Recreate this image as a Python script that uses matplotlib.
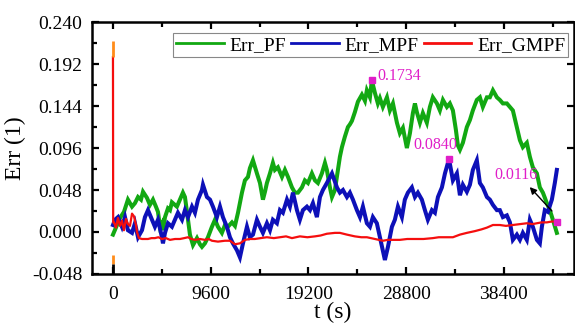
import matplotlib
matplotlib.use("Agg")
import matplotlib.pyplot as plt
from matplotlib.ticker import MultipleLocator, FormatStrFormatter

plt.rcParams['font.family'] = ['Liberation Serif', 'DejaVu Serif']
plt.rcParams['axes.unicode_minus'] = False

# Err_PF (green)
pf_t = [0, 290, 690, 1080, 1470, 1870, 2160, 2460, 2750, 2950,
        3340, 3630, 3930, 4220, 4420, 4620, 4810, 4910, 5110, 5400,
        5600, 5790, 6090, 6280, 6580, 6870, 7070, 7270, 7560, 7860,
        8250, 8540, 8740, 9030, 9330, 9720, 10020, 10310, 10700, 11000,
        11290, 11690, 11980, 12280, 12670, 12960, 13260, 13450, 13750, 14140,
        14440, 14730, 14930, 15120, 15420, 15710, 15910, 16200, 16600, 16890,
        17190, 17580, 17870, 18170, 18560, 18850, 19150, 19540, 19840, 20130,
        20520, 20820, 21010, 21310, 21510, 21800, 22100, 22290, 22490, 22780,
        23080, 23270, 23470, 23760, 24060, 24450, 24750, 24940, 25240, 25430,
        25730, 26020, 26220, 26510, 26910, 27200, 27500, 27890, 28180, 28480,
        28870, 29170, 29460, 29660, 29850, 30150, 30440, 30830, 31130, 31420,
        31820, 32110, 32410, 32800, 33090, 33390, 33680, 33880, 34080, 34370,
        34760, 35060, 35350, 35740, 36040, 36330, 36730, 37020, 37320, 37710,
        38000, 38300, 38690, 38990, 39280, 39670, 39970, 40260, 40650, 40950,
        41240, 41640, 41930, 42230, 42620, 42910, 43210, 43600]
pf_err = [-0.003, 0.005, 0.016, 0.023, 0.037, 0.029, 0.033, 0.040, 0.037, 0.046,
          0.039, 0.031, 0.037, 0.029, 0.023, 0.006, 0.010, 0.002, 0.017, 0.027,
          0.025, 0.034, 0.031, 0.029, 0.037, 0.045, 0.040, 0.023, -0.003, -0.015,
          -0.007, -0.014, -0.017, -0.013, -0.006, 0.006, 0.014, 0.006, -0.001, 0.008,
          0.006, 0.011, 0.007, 0.022, 0.045, 0.059, 0.063, 0.073, 0.082, 0.067,
          0.056, 0.037, 0.046, 0.056, 0.067, 0.079, 0.071, 0.074, 0.063, 0.071,
          0.063, 0.051, 0.045, 0.045, 0.051, 0.059, 0.056, 0.067, 0.059, 0.056,
          0.067, 0.079, 0.071, 0.051, 0.040, 0.048, 0.071, 0.086, 0.097, 0.109,
          0.120, 0.123, 0.127, 0.137, 0.149, 0.157, 0.150, 0.162, 0.154, 0.1734,
          0.159, 0.147, 0.153, 0.143, 0.154, 0.139, 0.147, 0.125, 0.113, 0.119,
          0.096, 0.113, 0.136, 0.147, 0.137, 0.125, 0.136, 0.125, 0.143, 0.154,
          0.147, 0.139, 0.151, 0.143, 0.147, 0.139, 0.117, 0.099, 0.094, 0.102,
          0.120, 0.128, 0.139, 0.151, 0.154, 0.143, 0.154, 0.154, 0.162, 0.154,
          0.151, 0.147, 0.147, 0.143, 0.139, 0.120, 0.105, 0.097, 0.102, 0.086,
          0.074, 0.067, 0.051, 0.045, 0.033, 0.025, 0.014, -0.001]

# Err_MPF (blue)
mpf_t = [0, 200, 490, 880, 1180, 1470, 1870, 2160, 2460, 2850,
         3140, 3440, 3830, 4120, 4420, 4810, 4910, 5110, 5400, 5790,
         6090, 6380, 6780, 7070, 7370, 7760, 8050, 8350, 8740, 8840,
         9230, 9530, 9820, 10210, 10510, 10800, 11190, 11490, 11780, 12180,
         12470, 12770, 13160, 13450, 13750, 14140, 14440, 14730, 15120, 15420,
         15710, 16100, 16400, 16690, 17090, 17380, 17680, 18070, 18360, 18660,
         19050, 19350, 19640, 20030, 20330, 20620, 21010, 21510, 21600, 22000,
         22290, 22590, 22980, 23270, 23570, 23960, 24260, 24550, 24940, 25240,
         25530, 25920, 26220, 26510, 26710, 27010, 27400, 27690, 27990, 28380,
         28670, 28970, 29360, 29660, 29950, 30340, 30640, 30930, 31330, 31620,
         31920, 32310, 32610, 32900, 33000, 33390, 33780, 34080, 34370, 34760,
         35060, 35350, 35740, 36040, 36330, 36730, 37020, 37320, 37710, 38000,
         38300, 38690, 38990, 39280, 39670, 39970, 40260, 40650, 40950, 41240,
         41640, 41930, 42130, 42420, 42720, 43110, 43400, 43600]
mpf_err = [0.008, 0.014, 0.017, 0.006, 0.017, 0.002, -0.001, 0.010, -0.006, 0.002,
           0.017, 0.025, 0.014, 0.006, 0.014, -0.006, -0.013, -0.001, 0.010, 0.006,
           0.014, 0.022, 0.014, 0.025, 0.017, 0.029, 0.022, 0.037, 0.048, 0.054,
           0.040, 0.037, 0.029, 0.017, 0.029, 0.017, 0.006, -0.006, -0.013, -0.021,
           -0.029, -0.013, 0.006, -0.006, -0.003, 0.014, 0.006, -0.001, 0.010, 0.002,
           0.014, 0.010, 0.025, 0.022, 0.037, 0.029, 0.045, 0.025, 0.014, 0.025,
           0.029, 0.025, 0.033, 0.017, 0.040, 0.048, 0.056, 0.067, 0.064, 0.051,
           0.045, 0.048, 0.040, 0.045, 0.037, 0.025, 0.017, 0.029, 0.010, 0.006,
           0.017, 0.010, -0.006, -0.021, -0.032, -0.017, 0.006, 0.014, 0.029, 0.017,
           0.037, 0.045, 0.051, 0.040, 0.045, 0.037, 0.025, 0.014, 0.025, 0.022,
           0.040, 0.051, 0.067, 0.079, 0.0840, 0.059, 0.067, 0.042, 0.054, 0.046,
           0.054, 0.071, 0.082, 0.056, 0.051, 0.040, 0.037, 0.031, 0.025, 0.025,
           0.017, 0.019, 0.011, -0.009, -0.003, -0.009, -0.001, -0.009, 0.014, 0.006,
           -0.009, -0.013, 0.006, 0.025, 0.023, 0.037, 0.056, 0.071]

# Err_GMPF (red)
gmpf_t = [0, 20, 100, 290, 490, 690, 880, 1080, 1280, 1470,
          1670, 1870, 2060, 2260, 2360, 2550, 2850, 3440, 3780, 4120,
          4460, 4810, 5200, 5600, 6100, 6580, 7000, 7370, 7700, 8050,
          8540, 9030, 9400, 9720, 10310, 11000, 11490, 11980, 12470, 12960,
          13450, 13940, 14500, 15120, 15800, 16400, 17000, 17580, 18360, 19100,
          19840, 20400, 21010, 21800, 22290, 22980, 23760, 24400, 24940, 25730,
          26510, 27000, 27400, 28180, 28900, 29660, 30500, 31420, 32000, 32610,
          33390, 34080, 34760, 35550, 36200, 36730, 37320, 38000, 38600, 39280,
          39970, 40650, 41200, 41640, 42100, 42620, 43100, 43600]
gmpf_err = [0.200, 0.011, 0.011, 0.005, 0.016, 0.007, 0.013, 0.002, 0.015, 0.009,
            0.007, 0.021, 0.018, 0.008, 0.000, -0.007, -0.008, -0.008, -0.007, -0.007,
            -0.006, -0.008, -0.007, -0.009, -0.008, -0.008, -0.007, -0.006, -0.008, -0.009,
            -0.008, -0.009, -0.008, -0.010, -0.011, -0.010, -0.010, -0.014, -0.013, -0.009,
            -0.008, -0.008, -0.007, -0.006, -0.007, -0.006, -0.005, -0.007, -0.005, -0.006,
            -0.005, -0.004, -0.002, -0.001, -0.001, -0.003, -0.005, -0.006, -0.006, -0.008,
            -0.010, -0.009, -0.009, -0.009, -0.008, -0.008, -0.008, -0.007, -0.006, -0.006,
            -0.006, -0.003, -0.001, 0.001, 0.003, 0.005, 0.008, 0.008, 0.007, 0.008,
            0.009, 0.010, 0.009, 0.010, 0.011, 0.011, 0.012, 0.0116]

# short marks drawn at t = 0
init_orange = [(0.200, 0.218), (-0.037, -0.026)]
init_black = (-0.048, -0.037)

# labelled points
mark_t = [25430, 33000, 43600]
mark_err = [0.1734, 0.0840, 0.0116]

x_ticks = [0, 9600, 19200, 28800, 38400]

fig = plt.figure(figsize=(5.75, 3.25), dpi=100)
ax = fig.add_axes([0.160, 0.157, 0.838, 0.775])

ax.plot(pf_t, pf_err, color='#12a812', lw=2.9, label='Err_PF', solid_joinstyle='miter')
ax.plot(mpf_t, mpf_err, color='#0d10b8', lw=2.9, label='Err_MPF', solid_joinstyle='miter')
ax.plot(gmpf_t, gmpf_err, color='#f50e0e', lw=1.6, label='Err_GMPF')

for lo, hi in init_orange:
    ax.vlines(0, lo, hi, color='#ff8c1a', lw=2)
ax.vlines(0, init_black[0], init_black[1], color='black', lw=2)

ax.plot(mark_t, mark_err, 's', color='#e01ec8', ms=5, zorder=5)
ax.text(26000, 0.1785, '0.1734', color='#e01ec8', fontsize=11.5, va='center', ha='left')
ax.text(31700, 0.0990, '0.0840', color='#e01ec8', fontsize=11.5, va='center', ha='center')
ax.text(39600, 0.0650, '0.0116', color='#e01ec8', fontsize=11.5, va='center', ha='center')
ax.annotate('', xy=(40750, 0.0537), xytext=(43300, 0.0217),
            arrowprops=dict(arrowstyle='-|>', color='black', lw=1, mutation_scale=10))

ax.set_xlim(-2060, 45270)
ax.set_ylim(-0.048, 0.240)
ax.set_xticks(x_ticks)
ax.xaxis.set_minor_locator(MultipleLocator(4800))
ax.yaxis.set_major_locator(MultipleLocator(0.048))
ax.yaxis.set_minor_locator(MultipleLocator(0.024))
ax.yaxis.set_major_formatter(FormatStrFormatter('%.3f'))

ax.tick_params(which='both', direction='in', top=True, right=True, labelsize=14)
ax.tick_params(which='major', length=5, width=1.6)
ax.tick_params(which='minor', length=3.5, width=1.6, right=False)
ax.tick_params(axis='y', pad=7)
ax.tick_params(axis='x', pad=9)
for s in ax.spines.values():
    s.set_linewidth(1.8)

ax.set_xlabel('t (s)', fontsize=17, labelpad=-1)
ax.set_ylabel('Err (1)', fontsize=17, labelpad=4)

leg = ax.legend(loc='upper right', bbox_to_anchor=(0.988, 0.955), ncol=3, fontsize=14,
                handlelength=2.45, handletextpad=0.3, columnspacing=0.25,
                borderpad=0.15, borderaxespad=0, fancybox=False, framealpha=1)
leg.get_frame().set_edgecolor('#888888')
leg.get_frame().set_linewidth(0.8)
for line in leg.get_lines():
    line.set_linewidth(2)

fig.savefig('out.png', dpi=100)
